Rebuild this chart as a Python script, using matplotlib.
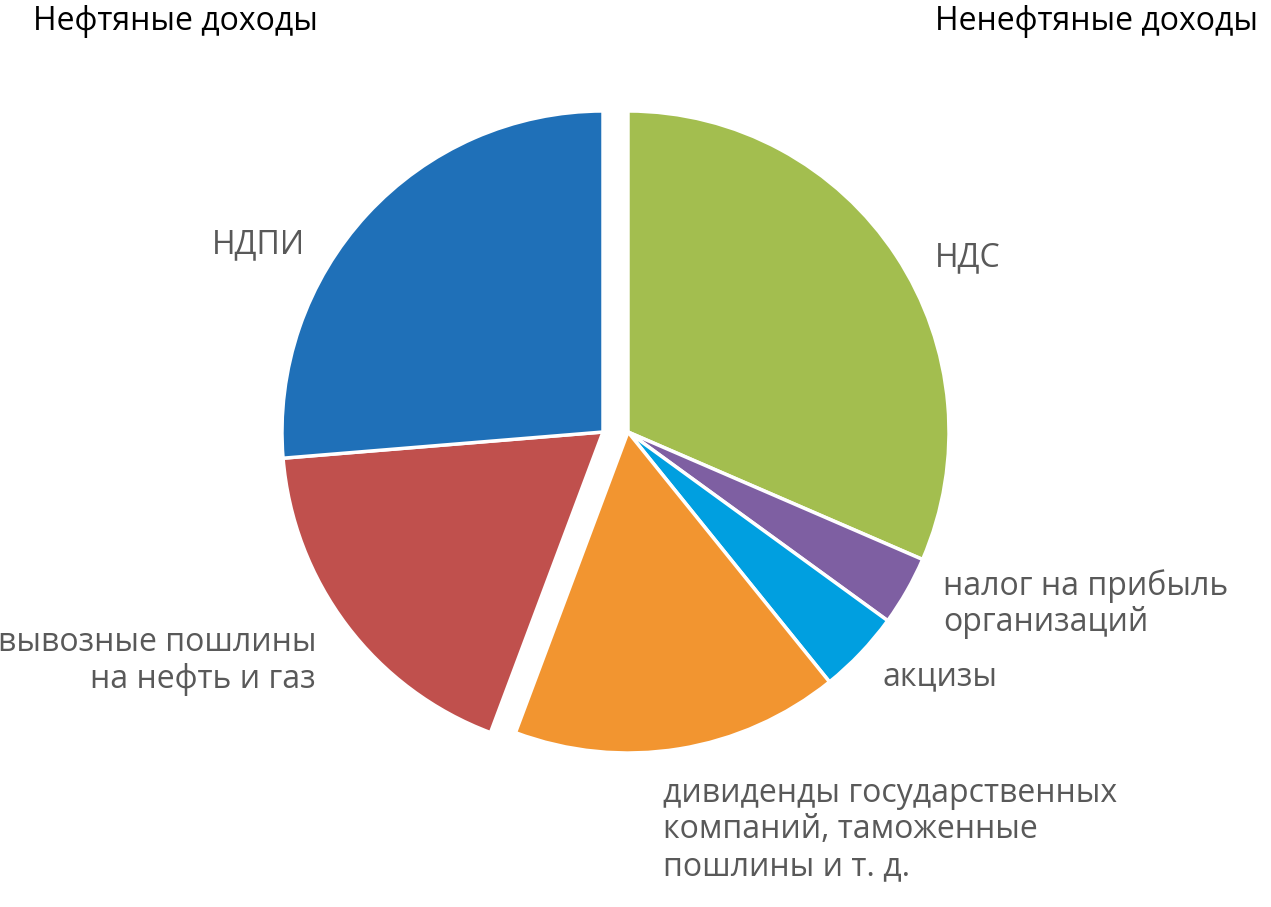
import matplotlib.pyplot as plt

labels = ["НДС", "налог на прибыль\nорганизаций", "акцизы",
          "дивиденды государственных\nкомпаний, таможенные\nпошлины и т. д.",
          "вывозные пошлины\nна нефть и газ", "НДПИ"]
shares = [31.5, 3.5, 4.2, 16.5, 18.0, 26.3]
oil = [False, False, False, False, True, True]
colors = ["#A3BE4F", "#7E5FA2", "#009FE0", "#F29530", "#C0504D", "#1F70B8"]

W, H = 1271, 907
fig = plt.figure(figsize=(W / 100, H / 100), dpi=100)
ax = fig.add_axes([0, 0, 1, 1])
ax.set_xlim(0, W)
ax.set_ylim(0, H)
ax.axis("off")

cx, cy, r = 628, H - 432, 321
shift = 25
wedges, _ = ax.pie(shares, colors=colors, startangle=90, counterclock=False,
                   radius=r, center=(cx, cy), frame=True,
                   wedgeprops=dict(edgecolor="white", linewidth=2.5))
for w, is_oil in zip(wedges, oil):
    if is_oil:
        w.set_center((cx - shift, cy))
ax.set_xlim(0, W)
ax.set_ylim(0, H)
ax.set_aspect("equal")
ax.axis("off")

font = "Open Sans"
gray = "#595959"
fs = 23

def px(x, y, s, ha="left", color=gray):
    ax.text(x, H - y, s, ha=ha, va="center", fontsize=fs, color=color,
            family=font, linespacing=1.15)

px(33, 22, "Нефтяные доходы", color="black")
px(1258, 22, "Ненефтяные доходы", ha="right", color="black")
px(212, 245, labels[5])
px(935, 258, labels[0])
px(943, 604, labels[1])
px(883, 677, labels[2])
px(663, 830, labels[3])
px(316, 661, labels[4], ha="right")

fig.savefig("out.png", dpi=100, facecolor="white")
